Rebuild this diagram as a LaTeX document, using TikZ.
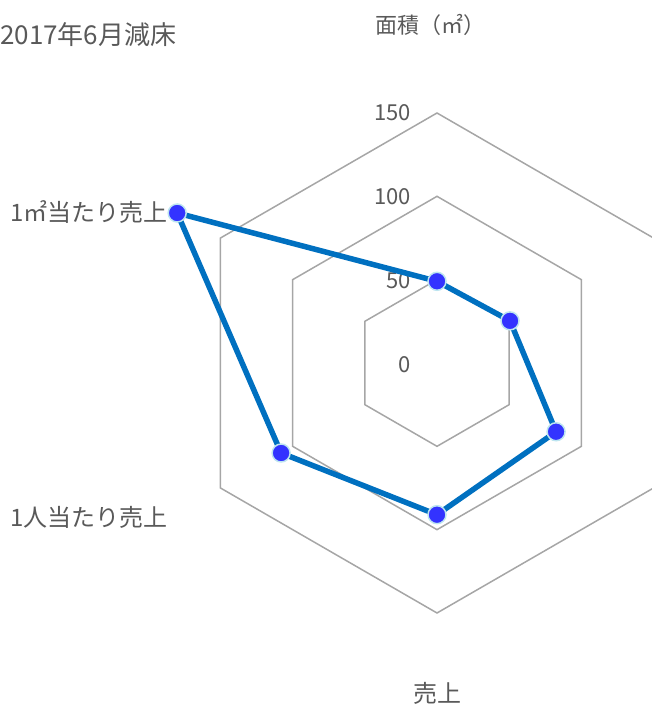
\documentclass[tikz,border=0pt]{standalone}
\usepackage{fontspec}
\setmainfont{Noto Sans CJK JP}
\usetikzlibrary{calc}
\definecolor{txt}{HTML}{595959}
\definecolor{gridc}{HTML}{A6A6A6}
\definecolor{serc}{HTML}{0070C0}
\definecolor{mkf}{HTML}{3333FF}
\definecolor{mkb}{HTML}{BDE5F0}
\tikzset{
  gridline/.style={draw=gridc, line width=1.5pt, line join=miter},
  series/.style={draw=serc, line width=5.5pt, line join=round},
  mk/.style={circle, fill=mkf, draw=mkb, line width=1.5pt, minimum size=18pt, inner sep=0pt},
  lbl/.style={text=txt, font=\fontsize{24}{24}\selectfont, inner sep=0pt},
  tick/.style={text=txt, font=\fontsize{22}{22}\selectfont, inner sep=0pt, anchor=east}
}
\begin{document}
\begin{tikzpicture}[x=1pt,y=1pt]
\useasboundingbox (0,0) rectangle (652,707);
\clip (0,0) rectangle (652,707);
\coordinate (c) at (437,344);
% grid hexagons
\foreach \r in {83.33,166.67,250}{
  \draw[gridline, shift={(c)}] (90:\r) -- (30:\r) -- (-30:\r) -- (-90:\r) -- (210:\r) -- (150:\r) -- cycle;
}
% tick labels
\node[tick] (t0) at (411,342) {0};
\node[tick] (t50) at (411,426) {50};
\node[tick] (t100) at (411,510) {100};
\node[tick] (t150) at (411,594) {150};
% data points
\coordinate (p1) at ($(c)+(90:81.7)$);
\coordinate (p2) at ($(c)+(30:84.3)$);
\coordinate (p3) at ($(c)+(-30:137.5)$);
\coordinate (p4) at ($(c)+(-90:151.7)$);
\coordinate (p5) at ($(c)+(210:180)$);
\coordinate (p6) at ($(c)+(150:300)$);
\draw[series] (p1) -- (p2) -- (p3) -- (p4) -- (p5) -- (p6) -- cycle;
\foreach \i in {1,...,6}{ \node[mk] (m\i) at (p\i) {}; }
% labels
\node[lbl, anchor=west, font=\fontsize{26}{26}\selectfont] (title) at (0,672) {2017年6月減床};
\node[lbl, font=\fontsize{22}{22}\selectfont] (a1) at (430,682) {面積（㎡）};
\node[lbl, anchor=east] (a6) at (168,495) {1㎡当たり売上};
\node[lbl, anchor=east] (a5) at (168,190) {1人当たり売上};
\node[lbl] (a4) at (437,14) {売上};
\end{tikzpicture}
\end{document}
